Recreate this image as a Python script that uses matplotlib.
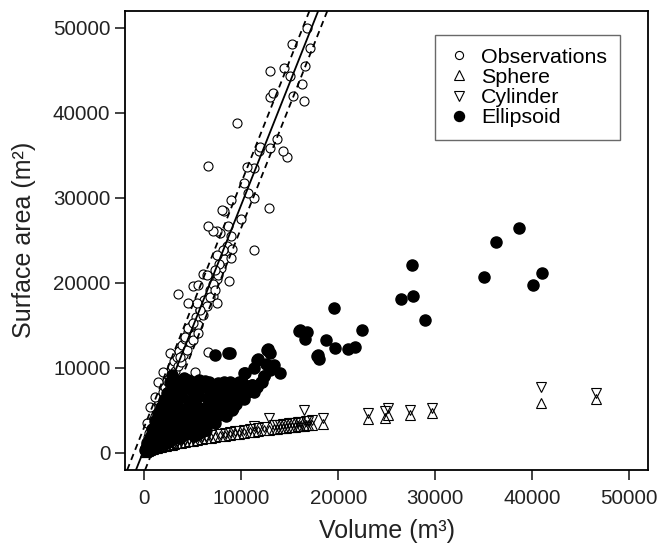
import matplotlib
matplotlib.use("Agg")
import matplotlib.pyplot as plt

plt.rcParams['font.family'] = ['Liberation Sans', 'DejaVu Sans']

# --- Dados ---
# Observacoes (volume m3, area m2)
obs_vol = [100, 200, 300, 350, 450, 500, 600, 650, 700, 800, 850, 900, 1000, 1050, 1150,
           1200, 1300, 1400, 1450, 1550, 1600, 1700, 1800, 1900, 2000, 2100, 2200, 2300,
           2400, 2500, 2600, 2700, 2800, 2900, 3000, 3100, 3200, 3350, 3500, 3600, 3750,
           3900, 4000, 4200, 4350, 4500, 4700, 4900, 5100, 5300, 5500, 5700, 6000, 6200,
           6500, 6800, 7100, 7500, 7900, 8200, 8500,
           248, 589, 1105, 1446, 1963, 2655, 3688, 5237, 6611, 4204, 5062, 5578, 4545, 5062,
           5754, 4545, 5413, 7479, 3512, 6787, 5062, 5578, 7128, 7303, 6033, 6508, 7644,
           8781, 7748, 7303, 8956, 9028, 8160, 7479, 11332, 8925, 8677, 7820, 7479, 7066,
           6611, 9989, 8233, 7995, 8956, 12809, 11260, 10640, 10299, 11260, 10578, 6611,
           14710, 14297, 11776, 12985, 11880, 13677, 9545, 16425, 15330, 12913, 13264,
           16259, 14979, 16600, 12913, 14359, 17045, 15226, 16776]
obs_area = [600, 1300, 800, 1900, 1500, 2400, 1900, 3000, 2300, 3300, 2700, 3900, 3200, 4400, 3700,
            5000, 4300, 5600, 4700, 6000, 5200, 6600, 5700, 7200, 6300, 7700, 6700, 8500,
            7300, 9100, 7900, 9600, 8500, 10200, 9000, 10800, 9600, 11300, 10200, 12000, 10700,
            12700, 11500, 13400, 12100, 14200, 13000, 15000, 13900, 16000, 15000, 16800, 16200, 18000,
            17300, 19200, 18500, 20500, 21800, 22800, 24300,
            3516, 5460, 6630, 8390, 9560, 11720, 11320, 9560, 11910, 13666, 13280, 14064, 14650, 15236,
            16795, 17580, 17650, 17580, 18750, 18355, 19610, 19725, 19925, 19140, 21100, 20900, 20900,
            20230, 22190, 21480, 22970, 24025, 23830, 23240, 23910, 25470, 26640, 25850, 26050, 26090,
            26640, 27540, 28400, 28515, 29770, 28785, 30000, 30540, 31715, 33520, 33670, 33790,
            34760, 35465, 35550, 35860, 35930, 36920, 38750, 41410, 41990, 41875, 42380,
            43360, 44340, 45510, 44920, 45310, 47650, 48050, 50000]

# Modelo esfera e cilindro (mesmos volumes)
mod_vol = [60, 150, 250, 350, 450, 600, 750, 900, 1100, 1300, 1500, 1700, 1950, 2200, 2500,
           2800, 3100, 3400, 3800, 4200, 4600, 5000, 5400, 5900, 6400, 6900, 7300, 7800,
           8300, 8800, 9300, 9800, 10300, 10900, 11260, 11700, 12300, 12810, 13400, 13700,
           14000, 14300, 14600, 14900, 15200, 15500, 15800, 16100, 16430, 16650, 16900,
           17300, 18430, 23080, 24870, 25100, 27450, 29720, 40880, 46630]
sphere_area = [76, 141, 198, 248, 293, 355, 411, 465, 531, 594, 653, 710, 778, 843, 918,
               991, 1060, 1127, 1214, 1298, 1379, 1458, 1534, 1628, 1718, 1807, 1876, 1961,
               2044, 2126, 2206, 2285, 2362, 2453, 2507, 2572, 2659, 2732, 2816, 2854,
               2899, 2940, 2981, 3021, 3062, 3102, 3142, 3181, 3225, 3254, 3286,
               3337, 3450, 3990, 4150, 4410, 4490, 4690, 5930, 6370]
cyl_area = [87, 162, 228, 285, 337, 408, 473, 535, 611, 683, 751, 817, 895, 969, 1056,
            1140, 1219, 1296, 1396, 1493, 1586, 1677, 2530, 1872, 1976, 2078, 3320, 2255,
            2351, 2445, 2537, 2628, 2716, 2821, 3120, 2958, 3058, 4100, 3238, 3282,
            3334, 3381, 3428, 3474, 3521, 3567, 3613, 3658, 5080, 3742, 3779,
            3838, 4150, 4690, 4900, 5280, 5080, 5270, 7810, 7100]

# Modelo elipsoide
ell_vol = [100, 200, 300, 400, 500, 600, 700, 800, 900, 1000, 1100, 1200, 1300, 1400, 1500,
           1600, 1700, 1800, 1900, 2000, 2100, 2200, 2300, 2400, 2500, 2600, 2700, 2800,
           2900, 3000, 3100, 3200, 3300, 3400, 3500, 3600, 3700, 3800, 3900, 4000, 4200,
           4300, 4400, 4500, 4600, 4800, 4900, 5000, 5100, 5200, 5300, 5500, 5600, 5800,
           5900, 6000, 6200, 6300, 6500, 6600, 6800, 6900, 7000, 7200, 7300, 7500, 7700,
           7900, 8100, 8200, 8400, 8600, 8700, 8900, 9100, 9300, 9500, 9600, 9800, 10000,
           10200, 10400, 10700, 10900, 11100, 11300,
           700, 1000, 1300, 1600, 1900, 2200, 2500, 2800, 3100, 3400, 3700, 4000, 4300,
           4600, 4900, 5200, 5500, 5800, 6100, 6400,
           1200, 1500, 1800, 2100, 2400, 2700, 3000, 3300, 3600, 3900, 4200, 4500, 4800,
           5100, 5400, 5700, 6000, 6300, 6600, 6900, 7200, 7500, 7800, 8100, 8400, 8700,
           9000, 9300, 9600, 9900, 10300,
           2600, 3000, 3400, 3800, 4100, 4700, 5300, 5600, 6100, 6700, 7000, 7600, 8000,
           8300, 8800, 9200, 9700, 10100, 10600, 11600, 12000, 12300, 13000, 12500,
           800, 1100, 1400, 1700, 2000, 2300, 2600, 2900,
           3688, 5062, 6508, 9028, 9132, 9369,
           9545, 10227, 11095, 12128, 12293, 10299, 11332, 11673, 14018, 13326, 12913,
           12706, 8853, 7303, 8615, 10402, 11611, 12644, 17870, 17974, 17810, 16084, 16776,
           16600, 18770, 15908, 19525, 19670, 20970, 21770, 22490, 26520, 27580, 27760,
           28970, 35060, 36330, 38630, 40120, 41010]
ell_area = [300, 600, 1000, 400, 1500, 800, 2000, 1200, 2600, 600, 1800, 3000, 900, 2300, 3600,
            1300, 2800, 4200, 1000, 1900, 3400, 4800, 2600, 1300, 5500, 4000, 3000, 6300,
            1600, 2200, 4700, 7000, 3600, 5800, 2700, 7900, 1800, 4300, 6600, 3300, 5200,
            7600, 2400, 8600, 6100, 3900, 4800, 7200, 2000, 8200, 5600, 3100, 6700, 4400,
            7800, 2600, 5300, 8500, 3600, 6300, 7300, 4700, 5600, 8000, 3500, 6600, 4500,
            7500, 5600, 8400, 4400, 6800, 7700, 5300, 6300, 7800, 5700, 7100, 8300, 6500,
            7600, 6900, 7900, 7300, 8000, 7200,
            900, 1300, 1700, 2000, 2400, 2000, 2400, 2000, 2500, 1900, 2300, 2100, 2700,
            2300, 2700, 2500, 2200, 2900, 3300, 2700,
            2200, 2700, 3200, 2900, 3500, 4200, 3700, 4600, 3000, 3600, 4300, 3300, 5600,
            4400, 5100, 3800, 4700, 4100, 5100, 5800, 4600, 5400, 6200, 4800, 6000, 5900,
            6700, 6100, 6400, 7000, 6300,
            7000, 7800, 8500, 8200, 8800, 8300, 7600, 8600, 7900, 8400, 7000, 8200, 7200,
            7600, 8400, 7200, 7900, 8400, 7500, 7700, 8400, 9000, 9800, 10500,
            2800, 3800, 4600, 5400, 6200, 7100, 8300, 9200,
            8005, 8005, 8204, 5075, 5274, 6630,
            7618, 7805, 8005, 8390, 9060, 9446, 9962, 11017, 9376, 10350, 11790,
            12190, 11720, 11520, 11720, 9376, 10935, 12107, 11520, 11017, 11400, 14450, 14250,
            13360, 13280, 14370, 17000, 12380, 12190, 12500, 14460, 18050, 22080, 18480,
            15590, 20700, 24750, 26400, 19700, 21220]

# Retas: ajuste (solida) e limites (tracejadas) -> (intercepto, inclinacao)
fit_line = (500, 2.87)
lim_lines = [(3100, 2.87), (-2200, 2.87)]

eixo_ticks = [0, 10000, 20000, 30000, 40000, 50000]

# --- Grafico ---
fig = plt.figure(figsize=(6.59, 5.47), dpi=100)
ax = fig.add_axes([0.1897, 0.1408, 0.7941, 0.8396])

ax.plot(obs_vol, obs_area, 'o', mfc='white', mec='black', mew=0.8, ms=6.5,
        ls='none', label='Observations', zorder=2)
ax.plot(ell_vol, ell_area, 'o', mfc='black', mec='black', ms=8.0,
        ls='none', label='Ellipsoid', zorder=3)
ax.plot(mod_vol, sphere_area, '^', mfc='none', mec='black', mew=0.8, ms=7.5,
        ls='none', label='Sphere', zorder=4)
ax.plot(mod_vol, cyl_area, 'v', mfc='none', mec='black', mew=0.8, ms=7.5,
        ls='none', label='Cylinder', zorder=4)

ax.axline((0, fit_line[0]), slope=fit_line[1], color='black', lw=1.3, zorder=5)
for b, m in lim_lines:
    ax.axline((0, b), slope=m, color='black', lw=1.3, ls=(0, (3.5, 2.5)), zorder=5)

ax.set_xlim(-2000, 52000)
ax.set_ylim(-2000, 52000)
ax.set_xticks(eixo_ticks)
ax.set_yticks(eixo_ticks)
ax.tick_params(direction='out', length=7.5, width=1.2, labelsize=14.8, colors='#222222')
ax.tick_params(axis='x', pad=6)
ax.tick_params(axis='y', pad=3)
for s in ax.spines.values():
    s.set_linewidth(1.3)
ax.set_xlabel('Volume (m³)', fontsize=18, labelpad=8, color='#222222')
ax.set_ylabel('Surface area (m²)', fontsize=18, labelpad=12, color='#222222')

handles, labels = ax.get_legend_handles_labels()
ordem = [0, 2, 3, 1]
leg = ax.legend([handles[i] for i in ordem], [labels[i] for i in ordem],
                loc='upper right', bbox_to_anchor=(0.946, 0.947), borderaxespad=0,
                fontsize=15.4, frameon=True, fancybox=False, edgecolor='#444444',
                handlelength=1.0, handletextpad=0.55, labelspacing=0.05, borderpad=0.6,
                markerscale=0.9)
leg.get_frame().set_linewidth(1.0)

fig.savefig('out.png', dpi=100)
